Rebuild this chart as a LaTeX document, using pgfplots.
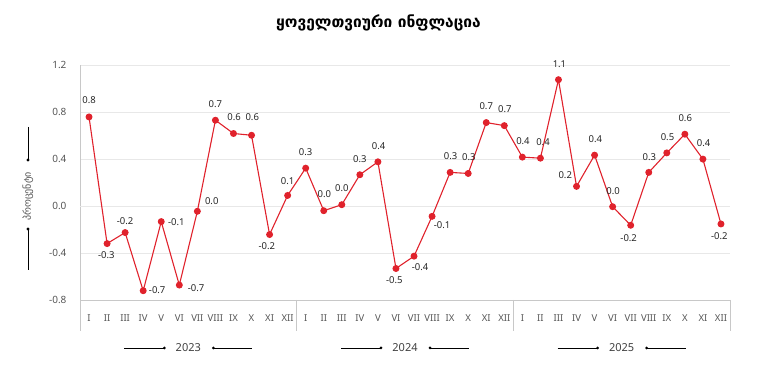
\documentclass[border=0pt]{standalone}
\usepackage{fontspec}
\setmainfont{Noto Sans}
\newfontfamily\geo{DejaVu Sans}
\usepackage{pgfplots}
\usepackage{pgfplotstable}
\pgfplotsset{compat=1.18}
\definecolor{infl}{RGB}{224,34,44}
\definecolor{tickgray}{RGB}{85,85,85}
\definecolor{gridgray}{RGB}{232,232,232}
\definecolor{framegray}{RGB}{200,200,200}
\definecolor{zeroline}{RGB}{232,150,150}
\newcommand{\R}[1]{\textnormal{#1}}

\pgfplotstableread{
x y lab dx dy
1 0.758 0.8 0 16.7
2 -0.320 -0.3 -0.7 -11.7
3 -0.226 -0.2 0 11.7
4 -0.721 -0.7 14 1
5 -0.133 -0.1 15 -0.7
6 -0.673 -0.7 16.7 -3
7 -0.045 0.0 14.4 10.3
8 0.730 0.7 0 16.4
9 0.617 0.6 0.7 16
10 0.602 0.6 0.7 17.7
11 -0.243 -0.2 -2.7 -11.4
12 0.090 0.1 0 14.3
13 0.322 0.3 0 16
14 -0.040 0.0 0.6 16.3
15 0.011 0.0 0 16.3
16 0.266 0.3 0 16
17 0.376 0.4 0.7 15.6
18 -0.532 -0.5 -1.7 -11.4
19 -0.427 -0.4 6 -11.3
20 -0.088 -0.1 10 -9
21 0.286 0.3 0.4 16.3
22 0.277 0.3 0.7 16.3
23 0.710 0.7 0 16.3
24 0.684 0.7 0.6 16.7
25 0.416 0.4 0.6 16
26 0.407 0.4 2.6 16.4
27 1.075 1.1 1 16
28 0.167 0.2 -11.3 11.7
29 0.433 0.4 0.7 16.4
30 -0.006 0.0 0.4 16
31 -0.164 -0.2 -2 -13.3
32 0.286 0.3 0.7 15.7
33 0.452 0.5 0.7 16
34 0.611 0.6 0.4 16.4
35 0.399 0.4 0.7 16
36 -0.153 -0.2 -1.7 -12.6
}\datatable

\newcommand{\yearlabel}[2]{%
  \node[font=\fontsize{11}{13}\selectfont, text=black!75] at ([yshift=-48pt]axis cs:#1,-0.8) {#2};
  \draw[black, line width=0.7pt] ([xshift=-64pt,yshift=-48pt]axis cs:#1,-0.8) -- ([xshift=-24pt,yshift=-48pt]axis cs:#1,-0.8);
  \fill[black] ([xshift=-24pt,yshift=-48pt]axis cs:#1,-0.8) circle (1.5pt);
  \draw[black, line width=0.7pt] ([xshift=25pt,yshift=-48pt]axis cs:#1,-0.8) -- ([xshift=64pt,yshift=-48pt]axis cs:#1,-0.8);
  \fill[black] ([xshift=25pt,yshift=-48pt]axis cs:#1,-0.8) circle (1.5pt);
}
\newcommand{\sep}[1]{%
  \draw[framegray, line width=0.7pt] (axis cs:#1,-0.8) -- ([yshift=-31pt]axis cs:#1,-0.8);
}

\begin{document}
\begin{tikzpicture}
\path[use as bounding box] (0,0) rectangle (769pt,387pt);
\begin{axis}[
  at={(80pt,87pt)}, anchor=south west,
  scale only axis, width=650pt, height=235pt,
  xmin=0.5, xmax=36.5, ymin=-0.8, ymax=1.2,
  clip=false,
  axis x line*=bottom, axis y line*=left,
  axis line style={draw=framegray, line width=0.7pt},
  ytick={-0.8,-0.4,0,0.4,0.8,1.2},
  ymajorgrids, major grid style={draw=gridgray, line width=0.7pt},
  extra y ticks={0}, extra y tick labels={},
  extra y tick style={grid style={draw=zeroline, line width=0.8pt}},
  major tick length=0pt, minor tick length=0pt,
  tick style={draw=none},
  /pgf/number format/assume math mode=true,
  yticklabel style={/pgf/number format/fixed, /pgf/number format/fixed zerofill, /pgf/number format/precision=1, font=\fontsize{10}{12}\selectfont, text=tickgray, anchor=east, xshift=-10pt},
  xtick={1,...,36},
  xticklabels={\R{I},\R{II},\R{III},\R{IV},\R{V},\R{VI},\R{VII},\R{VIII},\R{IX},\R{X},\R{XI},\R{XII},\R{I},\R{II},\R{III},\R{IV},\R{V},\R{VI},\R{VII},\R{VIII},\R{IX},\R{X},\R{XI},\R{XII},\R{I},\R{II},\R{III},\R{IV},\R{V},\R{VI},\R{VII},\R{VIII},\R{IX},\R{X},\R{XI},\R{XII}},
  xticklabel style={font=\fontsize{9.5}{11}\selectfont, text=tickgray, anchor=base, yshift=-22pt},
]
\addplot[infl, line width=1.1pt, mark=*, mark size=2.9pt, mark options={fill=infl, draw=infl},
  nodes near coords, point meta=explicit symbolic,
  visualization depends on={\thisrow{dx}\as\dx},
  visualization depends on={\thisrow{dy}\as\dy},
  every node near coord/.append style={anchor=center, xshift=\dx pt, yshift=\dy pt, font=\fontsize{9.5}{11}\selectfont, text=black!85, inner sep=0pt}]
  table[x=x, y=y, meta=lab]{\datatable};
\sep{0.5}
\sep{12.5}
\sep{24.5}
\sep{36.5}
\yearlabel{6.5}{2023}
\yearlabel{18.5}{2024}
\yearlabel{30.5}{2025}
\end{axis}
% title
\node[font=\geo\bfseries\fontsize{15.5}{18}\selectfont] at (378.5pt,364pt) {ყოველთვიური ინფლაცია};
% y label
\node[rotate=90, font=\geo\fontsize{10}{12}\selectfont, text=tickgray] at (28pt,190.5pt) {პროცენტი};
\draw[black, line width=0.8pt] (28pt,260pt) -- (28pt,227pt);
\fill[black] (28pt,227pt) circle (1.6pt);
\draw[black, line width=0.8pt] (28pt,158pt) -- (28pt,117pt);
\fill[black] (28pt,158pt) circle (1.6pt);
\end{tikzpicture}
\end{document}
